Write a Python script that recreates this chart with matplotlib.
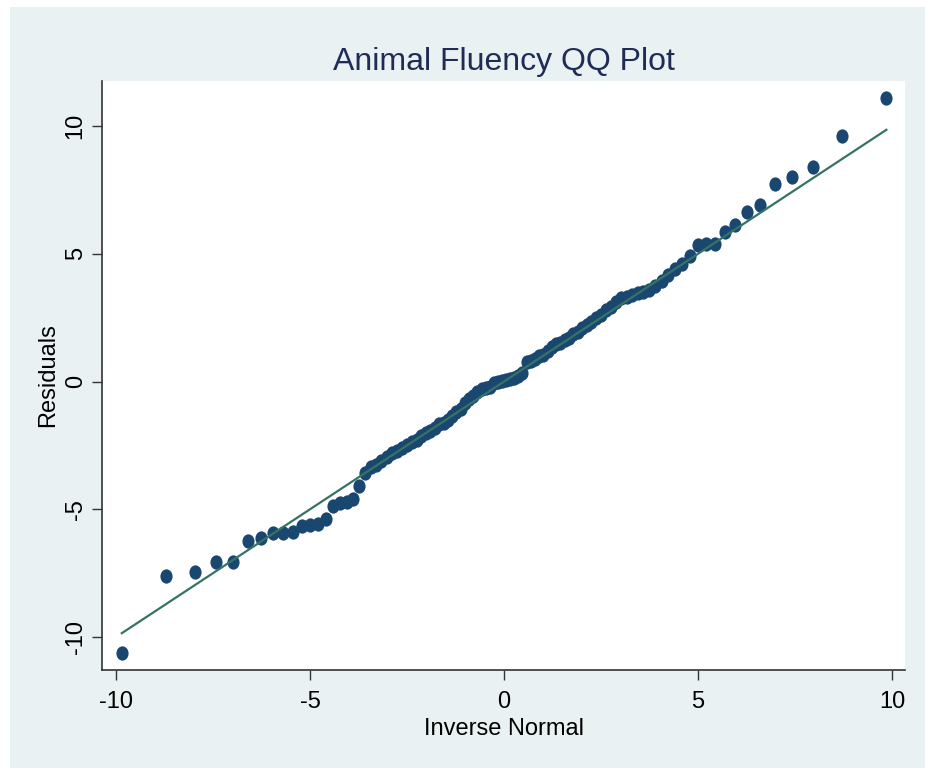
import numpy as np
import matplotlib
matplotlib.use('Agg')
import matplotlib.pyplot as plt
from matplotlib.path import Path
from matplotlib.transforms import Affine2D
from matplotlib.patches import Rectangle

plt.rcParams['font.family'] = ['Liberation Sans', 'DejaVu Sans']

# inverse normal positions (x), left half; right half mirrors
inv_left = [-9.85, -8.70, -7.97, -7.42, -6.98, -6.60, -6.26, -5.96, -5.69, -5.44,
            -5.21, -4.99, -4.79, -4.59, -4.41, -4.23, -4.06, -3.90, -3.74, -3.59,
            -3.44, -3.30, -3.16, -3.02, -2.88, -2.75, -2.62, -2.50, -2.37, -2.25,
            -2.13, -2.01, -1.90, -1.78, -1.67, -1.56, -1.45, -1.34, -1.23, -1.12,
            -1.01, -0.90, -0.79, -0.69, -0.58, -0.47, -0.37, -0.26, -0.16, -0.05]
inv_normal = inv_left + [-v for v in inv_left[::-1]]

# sorted residuals (y)
residuals = [-10.63, -7.61, -7.47, -7.08, -7.05, -6.24, -6.11, -5.94, -5.94, -5.88,
             -5.64, -5.62, -5.58, -5.37, -4.88, -4.77, -4.70, -4.61, -4.09, -3.59,
             -3.35, -3.25, -3.12, -2.95, -2.80, -2.72, -2.60, -2.48, -2.35, -2.28,
             -2.12, -2.00, -1.92, -1.80, -1.68, -1.62, -1.52, -1.35, -1.20, -1.08,
             -0.85, -0.70, -0.55, -0.40, -0.30, -0.25, -0.20, -0.05, 0.00, 0.02,
             0.05, 0.10, 0.15, 0.20, 0.35, 0.75, 0.82, 0.90, 0.98, 1.05,
             1.20, 1.35, 1.45, 1.52, 1.62, 1.72, 1.85, 1.95, 2.10, 2.22,
             2.32, 2.50, 2.62, 2.78, 2.92, 3.10, 3.25, 3.32, 3.40, 3.45,
             3.50, 3.60, 3.75, 3.92, 4.15, 4.40, 4.60, 4.90, 5.35, 5.38,
             5.40, 5.87, 6.13, 6.62, 6.91, 7.72, 8.02, 8.41, 9.62, 11.11]

xticks = [-10, -5, 0, 5, 10]
yticks = [-10, -5, 0, 5, 10]

bg = '#EAF1F3'
navy = '#1A476F'
teal = '#357464'

fig = plt.figure(figsize=(9.25, 7.69), dpi=100)
fig.patch.set_facecolor('white')
fig.patches.append(Rectangle((10 / 925, 1 / 769), 915 / 925, 761 / 769,
                             transform=fig.transFigure, facecolor=bg,
                             edgecolor='none', zorder=-10))

ax = fig.add_axes([102 / 925, 1 - 670 / 769, 803 / 925, 589 / 769])
ax.set_facecolor('white')

# slightly tall ellipse marker like the original
ell = Path.unit_circle().transformed(Affine2D().scale(0.85, 1.0))

ax.plot([inv_normal[0], inv_normal[-1]], [inv_normal[0], inv_normal[-1]],
        color=teal, lw=1.6, zorder=3)
ax.plot(inv_normal, residuals, linestyle='none', marker=ell, markersize=10.3,
        color=navy, markeredgewidth=0, zorder=2)

ax.set_xlim(-10.36, 10.33)
ax.set_ylim(-11.29, 11.76)
ax.set_xticks(xticks)
ax.set_yticks(yticks)
ax.set_xticklabels([str(t) for t in xticks])
ax.set_yticklabels([str(t) for t in yticks], rotation=90, va='center')

for s in ['top', 'right']:
    ax.spines[s].set_visible(False)
for s in ['left', 'bottom']:
    ax.spines[s].set_color('#333333')
    ax.spines[s].set_linewidth(1.2)

ax.tick_params(axis='both', length=7, width=1, color='#333333',
               labelsize=17, labelcolor='black')
ax.tick_params(axis='x', pad=8)
ax.tick_params(axis='y', pad=4)

ax.set_xlabel('Inverse Normal', fontsize=17, labelpad=4)
ax.set_ylabel('Residuals', fontsize=17, labelpad=4)
ax.set_title('Animal Fluency QQ Plot', fontsize=23, color='#1F2D56', pad=8)

fig.savefig('out.png', dpi=100)
